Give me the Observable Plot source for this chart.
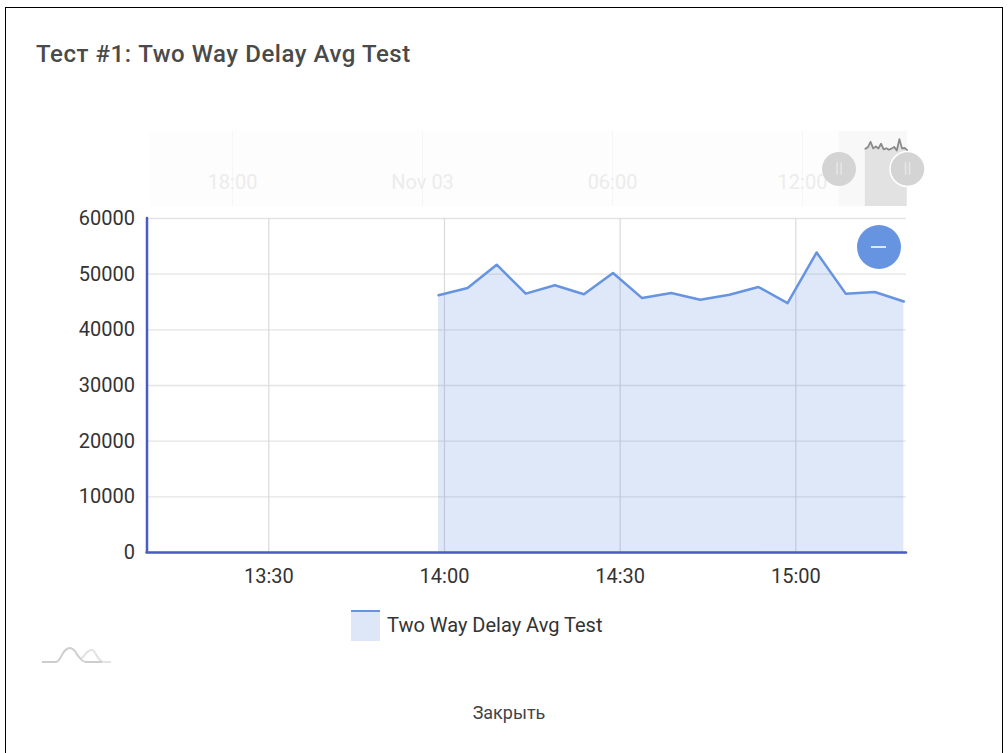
<!DOCTYPE html>
<html><head><meta charset="utf-8">
<script src="https://cdn.jsdelivr.net/npm/d3@7"></script>
<script src="https://cdn.jsdelivr.net/npm/@observablehq/plot@0.6"></script>
<style>
html,body{margin:0;padding:0;background:#fff;font-family:Roboto,sans-serif;overflow:hidden}
#page{position:relative;width:1008px;height:753px;overflow:hidden}
#frame{position:absolute;left:5px;top:7px;width:998px;height:760px;border:1px solid #000;box-sizing:border-box}
#title{position:absolute;left:36px;top:40px;font-size:24px;font-weight:500;color:#4a4a4a;white-space:nowrap;letter-spacing:.55px}
#overview,#main{position:absolute;left:0}
#overview{top:121px}
#main{top:200px}
#zoomBtn{position:absolute;left:857px;top:225px;width:44px;height:44px;border-radius:50%;background:#6694e0}
#zoomBtn i{position:absolute;left:14px;top:21px;width:15px;height:2px;background:#dfe8f8}
#legend{position:absolute;left:351px;top:610px;display:flex;align-items:center}
#swatch{width:29px;height:31px;background:#dee7f7;border-top:2px solid #6694e0;box-sizing:border-box}
#legText{margin-left:7px;font-size:20px;color:#333;white-space:nowrap;margin-top:-2px}
#logo{position:absolute;left:42px;top:644px}
#close{position:absolute;left:0;width:1018px;top:702px;text-align:center;font-size:18px;color:#444}
svg{font-family:Roboto,sans-serif;overflow:visible}
</style></head><body>
<div id="page">
<div id="frame"></div>
<div id="title"></div>
<div id="overview"></div>
<div id="main"></div>
<div id="zoomBtn"><i></i></div>
<div id="legend"><div id="swatch"></div><div id="legText"></div></div>
<svg id="logo" width="70" height="22" viewBox="0 0 70 22"><path d="M34 10C37 14 39 15 41 13C44 9 46 6 50 6C54 6 55 18 62 18H69" fill="none" stroke="#e2e2e2" stroke-width="2"/><path d="M0 18H14C19 18 20 4 28 4C35 4 36 18 44 18H60" fill="none" stroke="#cdcdcd" stroke-width="1.8"/></svg>
<div id="close"></div>
</div>
<script>
const titleText = "Тест #1: Two Way Delay Avg Test";
const seriesName = "Two Way Delay Avg Test";
const closeText = "Закрыть";
const times = ["13:58:59","14:03:57","14:08:55","14:13:53","14:18:51","14:23:49","14:28:47","14:33:45","14:38:43","14:43:41","14:48:39","14:53:37","14:58:35","15:03:33","15:08:31","15:13:29","15:18:27"];
const values = [46200,47500,51700,46500,48000,46400,50200,45700,46600,45400,46300,47700,44800,53900,46500,46800,45100];
const mainTicks = ["13:30","14:00","14:30","15:00"];
const yTicks = [0,10000,20000,30000,40000,50000,60000];
const overviewTickDates = ["2020-11-02T18:00:00Z","2020-11-03T00:00:00Z","2020-11-03T06:00:00Z","2020-11-03T12:00:00Z"];
const overviewTickLabels = ["18:00","Nov 03","06:00","12:00"];
const mainStart = "13:09:12", mainEnd = "15:18:54";
const overviewStart = "2020-11-02T15:22:40Z", overviewEnd = "2020-11-03T15:17:00Z";

const day = t => new Date("2020-11-03T" + (t.length === 5 ? t + ":00" : t) + "Z");
const data = times.map((t,i) => ({t: day(t), v: values[i]}));
const domain = [day(mainStart), day(mainEnd)];
const lineBlue = "#6694e0", axisBlue = "#4a5bc4";

document.getElementById("title").textContent = titleText;
document.getElementById("legText").textContent = seriesName;
document.getElementById("close").textContent = closeText;

document.getElementById("main").append(Plot.plot({
  width: 1008, height: 400, marginLeft: 146.5, marginRight: 102, marginTop: 18, marginBottom: 48,
  style: {fontFamily: "Roboto, sans-serif", fontSize: "20px", color: "#333", background: "transparent"},
  x: {type: "utc", domain, label: null},
  y: {domain: [0, 60000], label: null},
  marks: [
    Plot.gridY(yTicks, {stroke: "#e4e4e4", strokeOpacity: 1, strokeWidth: 1.3}),
    Plot.gridX(mainTicks.map(day), {stroke: "#dadada", strokeOpacity: 1, strokeWidth: 1.2}),
    Plot.areaY(data, {x: "t", y: "v", fill: "#4a7fd8", fillOpacity: 0.18}),
    Plot.lineY(data, {x: "t", y: "v", stroke: lineBlue, strokeWidth: 2.5}),
    Plot.axisY(yTicks, {tickSize: 0, tickPadding: 12, label: null, tickFormat: d => String(d), fill: "#333"}),
    Plot.axisX(mainTicks.map(day), {tickSize: 0, tickPadding: 16, label: null, tickFormat: d => d3.utcFormat("%H:%M")(d), fill: "#333"}),
    Plot.ruleX([domain[0]], {stroke: axisBlue, strokeWidth: 2.5, strokeLinecap: "round"}),
    Plot.ruleY([0], {stroke: axisBlue, strokeWidth: 2.5, strokeLinecap: "round"})
  ]
}));

const ticksO = overviewTickDates.map((d,i) => ({d: new Date(d), label: overviewTickLabels[i]}));
document.getElementById("overview").append(Plot.plot({
  width: 1008, height: 95, marginLeft: 149, marginRight: 102, marginTop: 10, marginBottom: 10,
  style: {fontFamily: "Roboto, sans-serif", background: "transparent"},
  x: {type: "utc", domain: [new Date(overviewStart), new Date(overviewEnd)], axis: null},
  y: {domain: [0, 60000], axis: null},
  marks: [
    Plot.frame({fill: "#fdfdfd", stroke: null}),
    Plot.gridX(ticksO.map(d => d.d), {stroke: "#f6f6f6", strokeOpacity: 1}),
    Plot.text(ticksO, {x: "d", text: "label", frameAnchor: "bottom", dy: -18, fontSize: 20, fill: "#ececec"}),
    Plot.rectY([0], {x1: () => domain[0], x2: () => domain[1], y1: 0, y2: 60000, fill: "#f8f8f8"}),
    Plot.areaY(data, {x: "t", y: "v", fill: "#e2e2e2"}),
    Plot.lineY(data, {x: "t", y: "v", stroke: "#8a8a8a", strokeWidth: 1.8}),
    Plot.dot([domain[0]], {x: d => d, y: () => 30000, r: 17, fill: "#d4d4d4"}),
    Plot.dot([domain[1]], {x: d => d, y: () => 30000, r: 17.5, fill: "#d4d4d4", stroke: "#fff", strokeWidth: 1.5}),
    Plot.ruleX(domain, {y1: 25000, y2: 35000, stroke: "#e6e6e6", strokeWidth: 1.5, dx: -2}),
    Plot.ruleX(domain, {y1: 25000, y2: 35000, stroke: "#e6e6e6", strokeWidth: 1.5, dx: 2})
  ]
}));
</script>
</body></html>
